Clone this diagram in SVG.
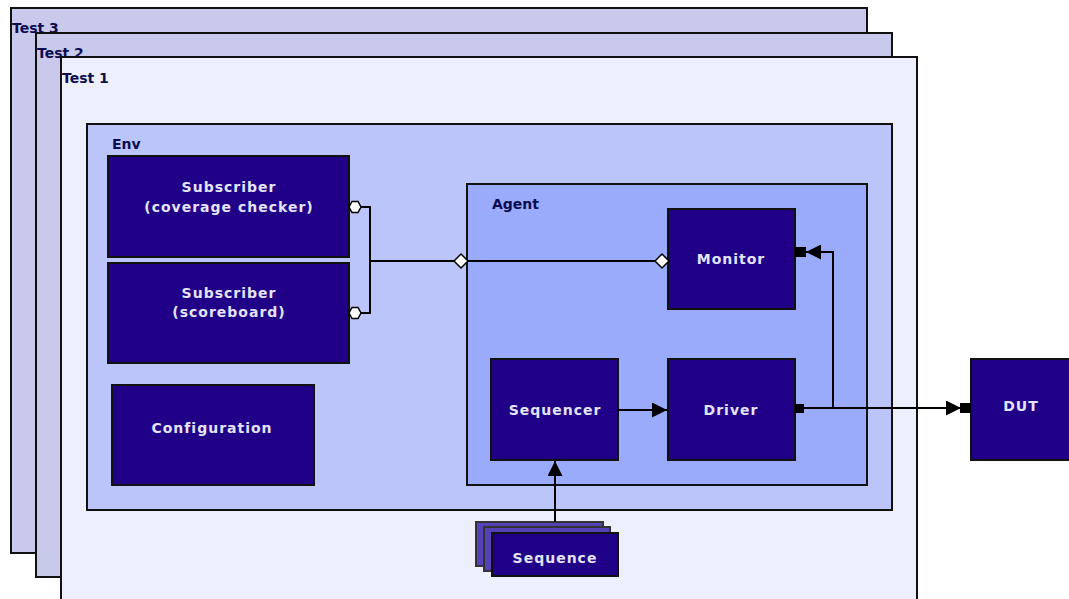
<svg xmlns="http://www.w3.org/2000/svg" width="1069" height="599" viewBox="0 0 1069 599">
  <defs>
    <style>
      .frame { fill: #c9c9ec; stroke: #111; stroke-width: 2; }
      .frame1 { fill: #eeeffd; stroke: #111; stroke-width: 2; }
      .env { fill: #bcc5fa; stroke: #111; stroke-width: 2; }
      .agent { fill: #99abfa; stroke: #111; stroke-width: 2; }
      .blk { fill: #1f0087; stroke: #111; stroke-width: 2; }
      .seqback { fill: #5541b8; stroke: #333; stroke-width: 2; }
      .title { font-family: "DejaVu Sans", sans-serif; font-weight: bold; font-size: 14px; fill: #0c0c50; }
      .lbl { font-family: "DejaVu Sans", sans-serif; font-weight: bold; font-size: 14px; fill: #e4e4ff; text-anchor: middle; letter-spacing: 1px; }
      .wire { fill: none; stroke: #000; stroke-width: 2; }
      .port { fill: #fff; stroke: #000; stroke-width: 1.5; }
    </style>
    <marker id="arr" viewBox="0 0 10 10" refX="10" refY="5" markerWidth="15" markerHeight="15" markerUnits="userSpaceOnUse" orient="auto">
      <path d="M0,0 L10,5 L0,10 Z" fill="#000"/>
    </marker>
  </defs>

  <!-- test frames -->
  <g id="test3">
    <rect class="frame" x="11" y="8" width="856" height="545"/>
    <text class="title" x="12" y="33">Test 3</text>
  </g>
  <g id="test2">
    <rect class="frame" x="36" y="33" width="856" height="544"/>
    <text class="title" x="37" y="58">Test 2</text>
  </g>
  <g id="test1">
    <rect class="frame1" x="61" y="57" width="856" height="550"/>
    <text class="title" x="62" y="83">Test 1</text>
  </g>

  <!-- environment -->
  <g id="env">
    <rect class="env" x="87" y="124" width="805" height="386"/>
    <text class="title" x="112" y="149">Env</text>
  </g>
  <g id="agent">
    <rect class="agent" x="467" y="184" width="400" height="301"/>
    <text class="title" x="492" y="209">Agent</text>
  </g>

  <g id="sub-coverage">
    <rect class="blk" x="108" y="156" width="241" height="101"/>
    <text class="lbl" x="229" y="192">Subscriber</text>
    <text class="lbl" x="229" y="212">(coverage checker)</text>
  </g>
  <g id="sub-scoreboard">
    <rect class="blk" x="108" y="263" width="241" height="100"/>
    <text class="lbl" x="229" y="298">Subscriber</text>
    <text class="lbl" x="229" y="317">(scoreboard)</text>
  </g>
  <g id="configuration">
    <rect class="blk" x="112" y="385" width="202" height="100"/>
    <text class="lbl" x="212" y="433">Configuration</text>
  </g>
  <g id="monitor">
    <rect class="blk" x="668" y="209" width="127" height="100"/>
    <text class="lbl" x="731" y="264">Monitor</text>
  </g>
  <g id="sequencer">
    <rect class="blk" x="491" y="359" width="127" height="101"/>
    <text class="lbl" x="555" y="415">Sequencer</text>
  </g>
  <g id="driver">
    <rect class="blk" x="668" y="359" width="127" height="101"/>
    <text class="lbl" x="731" y="415">Driver</text>
  </g>
  <g id="dut">
    <rect class="blk" x="971" y="359" width="100" height="101"/>
    <text class="lbl" x="1021" y="411">DUT</text>
  </g>
  <g id="sequence">
    <rect class="seqback" x="476" y="522" width="127" height="44"/>
    <rect class="seqback" x="484" y="527" width="126" height="44"/>
    <rect class="blk" x="492" y="533" width="126" height="43"/>
    <text class="lbl" x="555" y="563">Sequence</text>
  </g>

  <!-- connectors -->
  <g id="connectors">
    <!-- analysis fan-out from monitor to subscribers -->
    <path class="wire" d="M355,207 H370 V313 H355"/>
    <path class="wire" d="M370,261 H662"/>
    <polygon class="port" points="349,207 352,201.5 358,201.5 361,207 358,212.5 352,212.5"/>
    <polygon class="port" points="349,313 352,307.5 358,307.5 361,313 358,318.5 352,318.5"/>
    <polygon class="port" points="454,261 461,254 468,261 461,268"/>
    <polygon class="port" points="655,261 662,254 669,261 662,268"/>

    <!-- sequencer to driver -->
    <path class="wire" d="M618,410 H667" marker-end="url(#arr)"/>
    <!-- sequence to sequencer -->
    <path class="wire" d="M555,522 V461" marker-end="url(#arr)"/>

    <!-- driver to DUT, tapped by monitor -->
    <rect x="795" y="404" width="9" height="9" fill="#000"/>
    <path class="wire" d="M804,408 H961" marker-end="url(#arr)"/>
    <rect x="960" y="403" width="11" height="10" fill="#000"/>
    <path class="wire" d="M833,408 V252 H806" marker-end="url(#arr)"/>
    <rect x="795" y="247" width="11" height="10" fill="#000"/>
  </g>
</svg>
